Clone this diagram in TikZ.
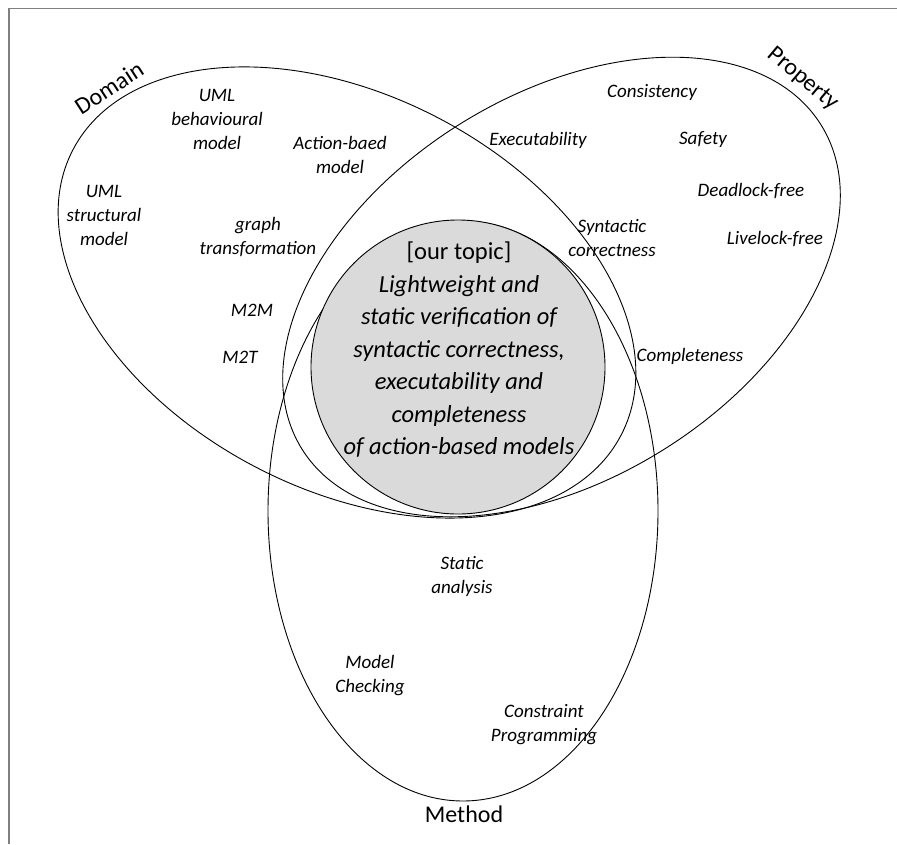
\documentclass[tikz,border=0pt]{standalone}
\usepackage{fontspec}
\setmainfont{Carlito}
\begin{document}
\begin{tikzpicture}[x=1pt,y=-1pt,
  setline/.style={draw=black,line width=0.9pt},
  framelines/.style={draw=black!50,line width=1.6pt},
  item/.style={align=center,inner sep=0pt,font=\fontsize{19}{24}\selectfont\itshape},
  setname/.style={inner sep=0pt,font=\fontsize{24}{28}\selectfont},
  topic/.style={align=center,inner sep=0pt,font=\fontsize{24.5}{32.5}\selectfont}]
\useasboundingbox (0,0) rectangle (897,844);

% partial frame
\draw[framelines] (9,844) -- (9,8.5) -- (897,8.5);

% centres of the three sets and of the topic disc
\coordinate (dC) at (347,292.5);
\coordinate (pC) at (561.5,287);
\coordinate (mC) at (463,511);
\coordinate (tC) at (458,367);

% the three sets
\draw[setline,rotate around={-27.5:(dC)}] (dC) ellipse [x radius=309pt, y radius=197pt];
\draw[setline,rotate around={32:(pC)}] (pC) ellipse [x radius=306pt, y radius=192pt];
\draw[setline] (mC) ellipse [x radius=195pt, y radius=290pt];

% the topic disc
\draw[setline,fill={rgb,255:red,218;green,218;blue,218}] (tC) circle [radius=147pt];

% set names
\node[setname,rotate=33] (domain) at (109,88) {Domain};
\node[setname,rotate=-40] (property) at (803,79) {Property};
\node[setname] (method) at (464,814) {Method};

% domain items
\node[item] (umlb) at (217,119) {UML\\behavioural\\model};
\node[item] (umls) at (104,215) {UML\\structural\\model};
\node[item] (actm) at (340,155) {Action-baed\\model};
\node[item] (graph) at (258,237) {graph\\transformation};
\node[item] (mm) at (252,310) {M2M};
\node[item] (mt) at (240,357) {M2T};

% property items
\node[item] (cons) at (652,92) {Consistency};
\node[item] (exec) at (538,140) {Executability};
\node[item] (safe) at (703,140) {Safety};
\node[item] (dead) at (751,191) {Deadlock-free};
\node[item] (live) at (775,239) {Livelock-free};
\node[item] (synt) at (612,238) {Syntactic\\correctness};
\node[item] (comp) at (690,356) {Completeness};

% method items
\node[item] (stat) at (462,576) {Static\\analysis};
\node[item] (mc) at (370,676) {Model\\Checking};
\node[item] (cp) at (544,725) {Constraint\\Programming};

% topic text
\node[topic] (topictext) at (459,350) {[our topic]\\\itshape Lightweight and\\\itshape static verification of\\\itshape syntactic correctness,\\\itshape executability and\\\itshape completeness\\\itshape of action-based models};
\end{tikzpicture}
\end{document}
